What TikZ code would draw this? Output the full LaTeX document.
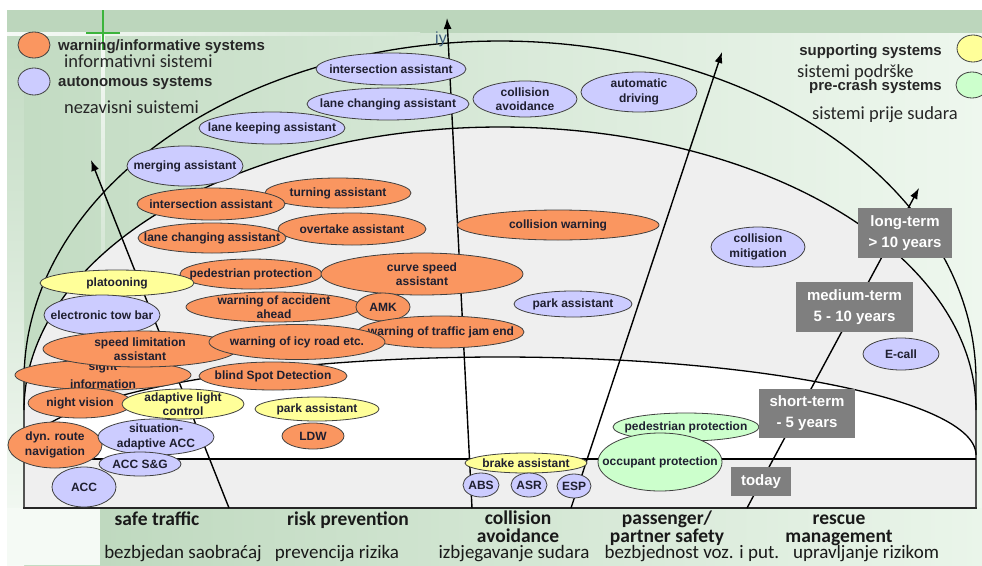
\documentclass[tikz,border=0pt]{standalone}
\usepackage{fontspec}
\setmainfont{Liberation Sans}
\newfontfamily\carlito{Carlito}
\usetikzlibrary{shapes.geometric,arrows.meta}

\definecolor{orn}{HTML}{FA9660}
\definecolor{lav}{HTML}{CCCCFF}
\definecolor{yel}{HTML}{FFFF99}
\definecolor{lgr}{HTML}{CCFFCC}
\definecolor{boxg}{HTML}{7F7F7F}
\definecolor{bgL}{HTML}{C2DBC2}
\definecolor{bgR}{HTML}{EEF7EE}
\definecolor{bgTop}{HTML}{BCD6BC}
\definecolor{bgB1}{HTML}{BFD9BF}
\definecolor{bgB2}{HTML}{EAF5EA}
\definecolor{domeg}{HTML}{EFEFEF}
\definecolor{txt}{HTML}{1F1F30}
\definecolor{iyc}{HTML}{3A5A7A}
\definecolor{crossg}{HTML}{3CB43C}

\tikzset{
  ell/.style={ellipse, draw=black!75, line width=0.8pt, inner sep=0pt, outer sep=0pt},
  lbl/.style={font=\bfseries\fontsize{12}{14.5}\selectfont, text=txt, align=center, inner sep=0pt},
  tbox/.style={fill=boxg, text=white, font=\bfseries\fontsize{15}{21}\selectfont, align=center, inner sep=0pt},
  legb/.style={font=\bfseries\fontsize{15}{18}\selectfont, text=black!85, inner sep=0pt},
  legn/.style={font=\carlito\fontsize{18.5}{20}\selectfont, text=black!85, inner sep=0pt},
  catb/.style={font=\carlito\bfseries\fontsize{19.5}{17}\selectfont, text=black!90, inner sep=0pt},
  catn/.style={font=\carlito\fontsize{19}{19}\selectfont, text=black!90, inner sep=0pt},
  arr/.style={line width=1.4pt, -{Latex[length=11pt,width=8pt]}},
  domeline/.style={line width=1.3pt, black},
}

\begin{document}
\begin{tikzpicture}[x=1pt,y=-1pt]
\useasboundingbox (0,0) rectangle (982,565);
% ---------- background ----------
\fill[white] (0,0) rectangle (982,565);
\shade[left color=bgL, right color=bgR] (7,10) rectangle (982,565);
\shade[top color=bgL, bottom color=bgR!50!white] (7,33) rectangle (24,565);
\fill[bgR!60!white] (7,508) rectangle (100,565);
\shade[left color=bgB1, right color=bgB2] (100,508) rectangle (982,565);
\fill[bgTop] (7,10) rectangle (982,33);
\shade[left color=white!85!bgL, right color=bgL!60!bgR] (7,32) rectangle (420,35);
\shade[top color=white!85!bgL, bottom color=bgL] (101.5,35) rectangle (104.5,380);
\draw[crossg, line width=2.2pt] (103,10) -- (103,50);
\draw[crossg, line width=2.2pt] (86,33) -- (120,33);

% ---------- dome fills ----------
\fill[domeg] (24,508) -- (24,410) -- plot[domain=180:360, samples=120] ({500+476*cos(\x)},{410+283*sin(\x)}) -- (976,410) -- (976,508) -- cycle;
\fill[white] (24,459) -- (24,455) -- plot[domain=180:360, samples=120] ({500+476*cos(\x)},{455+98*sin(\x)}) -- (976,455) -- (976,459) -- cycle;
\fill[domeg] (24,459) rectangle (976,508);

% ---------- dome lines ----------
\draw[domeline] (24,508) -- (24,380) -- plot[domain=180:360, samples=160] ({500+476*cos(\x)},{380+339*sin(\x)}) -- (976,508);
\draw[domeline] plot[domain=180:360, samples=160] ({500+476*cos(\x)},{410+283*sin(\x)});
\draw[domeline] plot[domain=180:360, samples=160] ({500+476*cos(\x)},{455+98*sin(\x)});
\draw[domeline] (24,459) -- (976,459);
\draw[line width=2pt, black!85] (23,508) -- (977,508);

% ---------- arrows ----------
\coordinate (a1s) at (229,508); \coordinate (a1e) at (91,160);
\coordinate (a2s) at (472,508); \coordinate (a2e) at (447,18);
\coordinate (a3s) at (571,508); \coordinate (a3e) at (722,52);
\coordinate (a4s) at (747,508); \coordinate (a4e) at (919,188);
\draw[arr] (a1s) -- (a1e);
\draw[arr] (a2s) -- (a2e);
\draw[arr] (a3s) -- (a3e);
\draw[arr] (a4s) -- (a4e);
\node[font=\fontsize{16}{16}\selectfont, text=iyc, inner sep=0pt] (iy) at (441,39) {iy};

% ---------- ellipses ----------
\node[ell, fill=lav, minimum width=150pt, minimum height=32pt, label={[lbl]center:intersection assistant}] (l1) at (391,69) {};
\node[ell, fill=lav, minimum width=162pt, minimum height=32pt, label={[lbl]center:lane changing assistant}] (l2) at (388,104) {};
\node[ell, fill=lav, minimum width=104pt, minimum height=36pt, label={[lbl]center:{collision\\avoidance}}] (l3) at (525,99) {};
\node[ell, fill=lav, minimum width=116pt, minimum height=40pt, label={[lbl]center:{automatic\\driving}}] (l4) at (639,92) {};
\node[ell, fill=lav, minimum width=146pt, minimum height=32pt, label={[lbl]center:lane keeping assistant}] (l5) at (272,128) {};
\node[ell, fill=lav, minimum width=116pt, minimum height=40pt, label={[lbl]center:merging assistant}] (l6) at (185,166) {};

\node[ell, fill=orn, minimum width=146pt, minimum height=30pt, label={[lbl]center:turning assistant}] (o2) at (338,193) {};
\node[ell, fill=orn, minimum width=148pt, minimum height=32pt, label={[lbl]center:intersection assistant}] (o1) at (211,204) {};
\node[ell, fill=orn, minimum width=148pt, minimum height=32pt, label={[lbl]center:overtake assistant}] (o4) at (352,229) {};
\node[ell, fill=orn, minimum width=148pt, minimum height=30pt, label={[lbl]center:lane changing assistant}] (o3) at (212,238) {};
\node[ell, fill=orn, minimum width=202pt, minimum height=30pt, label={[lbl]center:collision warning}] (o5) at (558,225) {};
\node[ell, fill=orn, minimum width=142pt, minimum height=30pt, label={[lbl]center:pedestrian protection}] (o6) at (251,274) {};
\node[ell, fill=yel, minimum width=154pt, minimum height=26pt, label={[lbl]center:platooning}] (y1) at (117,283) {};
\node[ell, fill=orn, minimum width=202pt, minimum height=42pt, label={[lbl]center:{curve speed\\assistant}}] (o7) at (422,274) {};
\node[ell, fill=lav, minimum width=116pt, minimum height=40pt, label={[lbl]center:electronic tow bar}] (l7) at (102,315) {};
\node[ell, fill=orn, minimum width=176pt, minimum height=30pt, label={[lbl]center:{warning of accident\\ahead}}] (o8) at (274,307) {};
\node[ell, fill=orn, minimum width=54pt, minimum height=28pt, label={[lbl]center:AMK}] (o9) at (383,307) {};
\node[ell, fill=orn, minimum width=166pt, minimum height=32pt, label={[lbl]center:warning of traffic jam end}] (o10) at (441,332) {};
\node[ell, fill=orn, minimum width=176pt, minimum height=30pt, label={[lbl, font=\bfseries\fontsize{12}{18}\selectfont]center:{sight\\information}}] (o11) at (103,375) {};
\node[ell, fill=orn, minimum width=194pt, minimum height=36pt, label={[lbl]center:{speed limitation\\assistant}}] (o12) at (140,349) {};
\node[ell, fill=orn, minimum width=176pt, minimum height=35pt, label={[lbl]center:warning of icy road etc.}] (o13) at (297,342) {};
\node[ell, fill=orn, minimum width=148pt, minimum height=28pt, label={[lbl]center:blind Spot Detection}] (o14) at (273,376) {};
\node[ell, fill=lav, minimum width=118pt, minimum height=26pt, label={[lbl]center:park assistant}] (l8) at (573,304) {};
\node[ell, fill=lav, minimum width=94pt, minimum height=40pt, label={[lbl]center:{collision\\mitigation}}] (l9) at (758,247) {};
\node[ell, fill=lav, minimum width=76pt, minimum height=32pt, label={[lbl]center:E-call}] (l10) at (901,354) {};
\node[ell, fill=orn, minimum width=104pt, minimum height=30pt, label={[lbl]center:night vision}] (o15) at (80,403) {};
\node[ell, fill=yel, minimum width=122pt, minimum height=30pt, label={[lbl]center:{adaptive light\\control}}] (y2) at (183,404) {};
\node[ell, fill=yel, minimum width=124pt, minimum height=24pt, label={[lbl]center:park assistant}] (y3) at (317,409) {};
\node[ell, fill=orn, minimum width=62pt, minimum height=26pt, label={[lbl]center:LDW}] (o16) at (313,436) {};
\node[ell, fill=orn, minimum width=94pt, minimum height=46pt, label={[lbl]center:{dyn. route\\navigation}}] (o17) at (55,445) {};
\node[ell, fill=lav, minimum width=116pt, minimum height=36pt, label={[lbl]center:{situation-\\adaptive ACC}}] (l11) at (156,437) {};
\node[ell, fill=lav, minimum width=64pt, minimum height=40pt, label={[lbl]center:ACC}] (l12) at (84,487) {};
\node[ell, fill=lav, minimum width=82pt, minimum height=24pt, label={[lbl]center:ACC S\&G}] (l13) at (140,464) {};
\node[ell, fill=lgr, minimum width=146pt, minimum height=28pt, label={[lbl]center:pedestrian protection}] (g1) at (686,427) {};
\node[ell, fill=lgr, minimum width=124pt, minimum height=58pt, label={[lbl]center:occupant protection}] (g2) at (660,462) {};
\node[ell, fill=yel, minimum width=122pt, minimum height=20pt, label={[lbl]center:brake assistant}] (y4) at (526,463) {};
\node[ell, fill=lav, minimum width=36pt, minimum height=24pt, label={[lbl]center:ABS}] (l14) at (481,485) {};
\node[ell, fill=lav, minimum width=36pt, minimum height=24pt, label={[lbl]center:ASR}] (l15) at (529,485) {};
\node[ell, fill=lav, minimum width=34pt, minimum height=24pt, label={[lbl]center:ESP}] (l16) at (574,486) {};

% ---------- time boxes ----------
\node[tbox, minimum width=94pt, minimum height=50pt] (lt) at (905,233) {long-term\\> 10 years};
\node[tbox, minimum width=117pt, minimum height=50pt] (mt) at (854.5,307) {medium-term\\5 - 10 years};
\node[tbox, minimum width=96pt, minimum height=49pt] (st) at (807,413.5) {short-term\\- 5 years};
\node[tbox, minimum width=60pt, minimum height=29pt] (td) at (761,481.5) {today};

% ---------- legend ----------
\node[ell, fill=orn, minimum width=32pt, minimum height=26pt] (lgo) at (34,45) {};
\node[ell, fill=lav, minimum width=32pt, minimum height=27pt] (lgl) at (34,81.5) {};
\node[ell, fill=yel, minimum width=32pt, minimum height=27pt] (lgy) at (973,48.5) {};
\node[ell, fill=lgr, minimum width=32pt, minimum height=26pt] (lgg) at (972,85) {};
\node[legb, anchor=base west] (t1) at (58,50) {warning/informative systems};
\node[legn, anchor=base west] (t2) at (64,67) {informativni sistemi};
\node[legb, anchor=base west] (t3) at (58,86) {autonomous systems};
\node[legn, anchor=base west] (t4) at (64,113) {nezavisni suistemi};
\node[legb, anchor=base east] (t5) at (942,55) {supporting systems};
\node[legn, anchor=base west] (t6) at (797,77) {sistemi podrške};
\node[legb, anchor=base east] (t7) at (942,90) {pre-crash systems};
\node[legn, anchor=base west] (t8) at (812,119) {sistemi prije sudara};

% ---------- bottom categories ----------
\node[catb, anchor=base] (c1) at (157,525) {safe traffic};
\node[catn, anchor=base] (c1b) at (183,558) {bezbjedan saobraćaj};
\node[catb, anchor=base] (c2) at (348,525) {risk prevention};
\node[catn, anchor=base] (c2b) at (337,558) {prevencija rizika};
\node[catb, anchor=base] (c3) at (518,524) {collision};
\node[catb, anchor=base] (c3a) at (518,542) {avoidance};
\node[catn, anchor=base] (c3b) at (514,558) {izbjegavanje sudara};
\node[catb, anchor=base] (c4) at (667,524) {passenger/};
\node[catb, anchor=base] (c4a) at (667,542) {partner safety};
\node[catn, anchor=base] (c4b) at (692,558) {bezbjednost voz. i put.};
\node[catb, anchor=base] (c5) at (839,524) {rescue};
\node[catb, anchor=base] (c5a) at (839,542) {management};
\node[catn, anchor=base] (c5b) at (866,558) {upravljanje rizikom};
\end{tikzpicture}
\end{document}
